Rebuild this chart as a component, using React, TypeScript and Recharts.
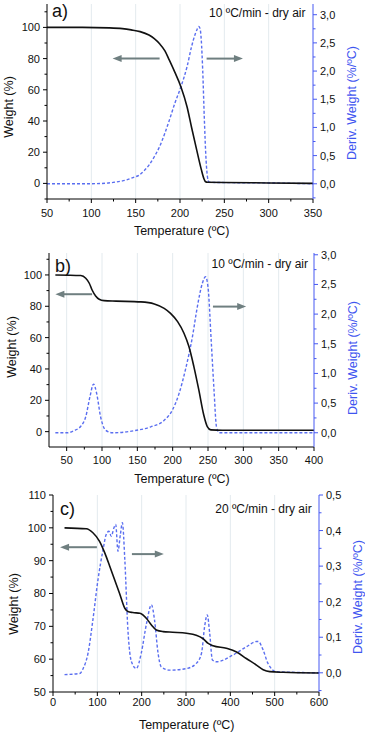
import { LineChart, Line, XAxis, YAxis, ReferenceLine } from 'recharts';

// panel a) 10 ºC/min
const tempWeightA = [50, 90, 120, 135, 145, 155, 165, 171, 177, 183, 188, 194, 201, 208, 213, 219, 224, 227, 228.5, 231, 250, 300, 350];
const weightA = [100, 100, 99.7, 99.2, 98.4, 97.3, 95.1, 92.8, 89.5, 85, 79, 71.5, 62, 49, 36, 21, 9, 3, 1.2, 0.7, 0.6, 0.3, 0];
const tempDerivA = [50, 90, 110, 125, 139, 147, 154, 160, 165, 171, 177, 183, 188, 194, 201, 208, 213, 217, 219, 221, 222.5, 224, 225.6, 227.5, 229.4, 231, 232.5, 236, 260, 300, 350];
const derivA = [0, 0, 0.005, 0.025, 0.066, 0.11, 0.155, 0.24, 0.33, 0.48, 0.66, 0.9, 1.13, 1.42, 1.72, 2.08, 2.43, 2.65, 2.73, 2.79, 2.76, 2.55, 2.02, 1.13, 0.42, 0.12, 0.035, 0.025, 0.02, 0.015, 0];

// panel b) 10 ºC/min
const tempWeightB = [34, 70, 77, 82, 86, 91, 96, 103, 120, 155, 174, 188, 197, 207, 216, 223, 230, 237, 244, 249, 254, 270, 400];
const weightB = [100, 99.6, 97.9, 94.7, 90.4, 86.6, 84.5, 83.6, 83.3, 82.8, 81.5, 78.7, 75.5, 70.2, 62.8, 54.3, 41.5, 26.6, 10.6, 3.2, 1.1, 0.9, 0.9];
const tempDerivB = [34, 51, 60, 70, 77, 83, 88, 92.5, 98, 105, 115, 145, 169, 188, 199.5, 209, 218, 228, 235, 242, 246.5, 250, 254.5, 258.5, 262, 266, 400];
const derivB = [0, 0, 0.034, 0.11, 0.27, 0.61, 0.82, 0.66, 0.27, 0.045, 0, 0.034, 0.1, 0.21, 0.38, 0.66, 1.06, 1.62, 2.13, 2.52, 2.63, 2.46, 1.56, 0.72, 0.1, 0, 0];

// panel c) 20 ºC/min
const tempWeightC = [26, 75, 90, 105, 117, 128, 139, 150, 162, 169, 180, 196, 211, 222, 233, 248, 270, 301, 323, 338, 350, 361, 391, 414, 436, 459, 474, 489, 519, 600];
const weightC = [100, 99.7, 98.5, 95.9, 92.3, 88.3, 84.2, 80.1, 75.5, 74.5, 74.2, 74, 72.4, 70.4, 68.9, 68.4, 68.2, 67.9, 67.3, 66.3, 64.8, 64.1, 63.3, 62.2, 60.2, 58.2, 56.8, 56.2, 56, 55.8];
const tempDerivC = [26, 60, 68, 79, 90, 101.5, 113, 120, 126, 131.5, 137.5, 141.5, 146.5, 152, 156.5, 162, 169, 177, 188, 199, 211, 222, 229, 237, 244, 263, 301, 323, 335, 342, 348, 353.5, 359.5, 368.5, 406, 436, 459, 463, 474, 485, 504, 600];
const derivC = [-0.005, -0.002, 0.012, 0.055, 0.149, 0.262, 0.347, 0.389, 0.398, 0.384, 0.408, 0.417, 0.342, 0.389, 0.422, 0.318, 0.12, 0.031, 0.012, 0.055, 0.139, 0.191, 0.149, 0.055, 0.017, 0.0075, 0.012, 0.026, 0.055, 0.13, 0.163, 0.111, 0.036, 0.031, 0.05, 0.073, 0.088, 0.088, 0.064, 0.026, 0.003, 0];

// ticks
const xMajorA = [50, 100, 150, 200, 250, 300, 350];
const xMinorA = [75, 125, 175, 225, 275, 325];
const xMajorB = [50, 100, 150, 200, 250, 300, 350, 400];
const xMinorB = [75, 125, 175, 225, 275, 325, 375];
const xMajorC = [0, 100, 200, 300, 400, 500, 600];
const xMinorC = [50, 150, 250, 350, 450, 550];
const wMajorAB = [0, 20, 40, 60, 80, 100];
const wMinorA = [-10, 10, 30, 50, 70, 90, 110];
const wMinorB = [10, 30, 50, 70, 90, 110];
const wMajorC = [50, 60, 70, 80, 90, 100, 110];
const wMinorC = [55, 65, 75, 85, 95, 105];
const dMajorAB = [0, 0.5, 1, 1.5, 2, 2.5, 3];
const dMinorA = [-0.25, 0.25, 0.75, 1.25, 1.75, 2.25, 2.75];
const dMinorB = [0.25, 0.75, 1.25, 1.75, 2.25, 2.75];
const dMajorC = [0, 0.1, 0.2, 0.3, 0.4, 0.5];
const dMinorC = [-0.05, 0.05, 0.15, 0.25, 0.35, 0.45];

// arrows: [fromTemp, toTemp, weight]
const arrowsA = [[177, 124, 80], [230, 271, 80]];
const arrowsB = [[86, 34, 87.7], [257, 304, 79.8]];
const arrowsC = [[99, 16, 94.1], [178, 250, 92]];

const BLACK = '#111';
const BLUE_LINE = '#5a6ef0';
const BLUE_AXIS = '#4659f2';
const BLUE_TITLE = '#3f56f0';
const ARROW = '#6f7f80';
const GRID = '#e3eaee';

const pairs = (ts: number[], vs: number[], key: string) => ts.map((t, i) => ({ t, [key]: vs[i] }));
const comma = (v: number) => v.toFixed(1).replace('.', ',');

const bottomTick = (majors: number[], dy: number) => (p: any) => {
  const v = p.payload.value;
  const major = majors.includes(v);
  return (
    <g>
      <line x1={p.x} x2={p.x} y1={p.y} y2={p.y + (major ? 4 : 2.5)} stroke="#000" />
      {major && (
        <text x={p.x} y={p.y + dy} textAnchor="middle" fontSize={11} fill={BLACK}>
          {v}
        </text>
      )}
    </g>
  );
};

const topTick = (p: any) => <line x1={p.x} x2={p.x} y1={p.y} y2={p.y + 3} stroke="#000" />;

const leftTick = (majors: number[]) => (p: any) => {
  const v = p.payload.value;
  const major = majors.includes(v);
  return (
    <g>
      <line x1={p.x} x2={p.x - (major ? 4 : 2.5)} y1={p.y} y2={p.y} stroke="#000" />
      {major && (
        <text x={p.x - 7} y={p.y} dy="0.36em" textAnchor="end" fontSize={11} fill={BLACK}>
          {v}
        </text>
      )}
    </g>
  );
};

const rightTick = (majors: number[]) => (p: any) => {
  const v = p.payload.value;
  const major = majors.includes(v);
  return (
    <g>
      <line x1={p.x} x2={p.x + (major ? 4 : 2.5)} y1={p.y} y2={p.y} stroke={BLUE_AXIS} />
      {major && (
        <text x={p.x + 7} y={p.y} dy="0.36em" textAnchor="start" fontSize={11} fill={BLACK}>
          {comma(v)}
        </text>
      )}
    </g>
  );
};

const Arrow = (p: any) => {
  const { x1, y1, x2, y2 } = p;
  const dir = Math.sign(x2 - x1);
  return (
    <g>
      <line x1={x1} y1={y1} x2={x2 - dir * 7} y2={y2} stroke={ARROW} strokeWidth={2} />
      <polygon points={`${x2},${y2} ${x2 - dir * 9},${y2 - 3.5} ${x2 - dir * 9},${y2 + 3.5}`} fill={ARROW} />
    </g>
  );
};

interface PanelProps {
  top: number;
  height: number;
  marginTop: number;
  leftW: number;
  rightW: number;
  xH: number;
  xDomain: number[];
  xMajor: number[];
  xMinor: number[];
  wDomain: number[];
  wMajor: number[];
  wMinor: number[];
  dDomain: number[];
  dMajor: number[];
  dMinor: number[];
  weight: any[];
  deriv: any[];
  arrows: number[][];
  labelDy: number;
}

function Panel(p: PanelProps) {
  const xTicks = [...p.xMajor, ...p.xMinor].sort((a, b) => a - b);
  const wTicks = [...p.wMajor, ...p.wMinor].sort((a, b) => a - b);
  const dTicks = [...p.dMajor, ...p.dMinor].sort((a, b) => a - b);
  const inner = p.xMajor.filter(v => v > p.xDomain[0] && v < p.xDomain[1]);
  return (
    <div style={{ position: 'absolute', left: 0, top: p.top }}>
      <LineChart width={365} height={p.height} margin={{ top: p.marginTop, right: 0, bottom: 0, left: 0 }}>
        <XAxis
          xAxisId="x"
          dataKey="t"
          type="number"
          domain={p.xDomain}
          ticks={xTicks}
          interval={0}
          height={p.xH}
          tickSize={0}
          tickMargin={0}
          tickLine={false}
          axisLine={{ stroke: '#000' }}
          tick={bottomTick(p.xMajor, p.labelDy)}
        />
        <XAxis
          xAxisId="top"
          orientation="top"
          dataKey="t"
          type="number"
          domain={p.xDomain}
          ticks={xTicks}
          interval={0}
          height={0}
          tickSize={0}
          tickMargin={0}
          tickLine={false}
          axisLine={{ stroke: '#000' }}
          tick={topTick}
        />
        <YAxis
          yAxisId="w"
          type="number"
          domain={p.wDomain}
          ticks={wTicks}
          interval={0}
          width={p.leftW}
          tickSize={0}
          tickMargin={0}
          tickLine={false}
          axisLine={{ stroke: '#000' }}
          tick={leftTick(p.wMajor)}
        />
        <YAxis
          yAxisId="d"
          orientation="right"
          type="number"
          domain={p.dDomain}
          ticks={dTicks}
          interval={0}
          width={p.rightW}
          tickSize={0}
          tickMargin={0}
          tickLine={false}
          axisLine={{ stroke: BLUE_AXIS }}
          tick={rightTick(p.dMajor)}
        />
        {inner.map(v => (
          <ReferenceLine key={'g' + v} xAxisId="x" yAxisId="w" x={v} stroke={GRID} strokeWidth={1} />
        ))}
        <Line
          xAxisId="x"
          yAxisId="d"
          data={p.deriv}
          dataKey="d"
          type="monotone"
          stroke={BLUE_LINE}
          strokeWidth={1.4}
          strokeDasharray="3 2"
          dot={false}
          isAnimationActive={false}
        />
        <Line
          xAxisId="x"
          yAxisId="w"
          data={p.weight}
          dataKey="w"
          type="monotone"
          stroke={BLACK}
          strokeWidth={1.6}
          dot={false}
          isAnimationActive={false}
        />
        {p.arrows.map((a, i) => (
          <ReferenceLine
            key={'a' + i}
            xAxisId="x"
            yAxisId="w"
            segment={[{ x: a[0], y: a[2] }, { x: a[1], y: a[2] }]}
            shape={Arrow}
          />
        ))}
      </LineChart>
    </div>
  );
}

const yTitle = (x: number, y: number, text: string, color: string) => (
  <text transform={`translate(${x},${y}) rotate(-90)`} textAnchor="middle" fontSize={12.5} fill={color}>
    {text}
  </text>
);

export default function App() {
  return (
    <div
      style={{
        position: 'absolute',
        left: 0,
        top: 0,
        width: 365,
        height: 733,
        background: '#fff',
        fontFamily: "Arial, 'Liberation Sans', sans-serif",
      }}
    >
      <Panel
        top={0}
        height={240}
        marginTop={4}
        leftW={47}
        rightW={52}
        xH={41}
        xDomain={[50, 350]}
        xMajor={xMajorA}
        xMinor={xMinorA}
        wDomain={[-10, 115]}
        wMajor={wMajorAB}
        wMinor={wMinorA}
        dDomain={[-0.27, 3.19]}
        dMajor={dMajorAB}
        dMinor={dMinorA}
        weight={pairs(tempWeightA, weightA, 'w')}
        deriv={pairs(tempDerivA, derivA, 'd')}
        arrows={arrowsA}
        labelDy={17.5}
      />
      <Panel
        top={240}
        height={240}
        marginTop={13}
        leftW={49}
        rightW={51}
        xH={33}
        xDomain={[25, 400]}
        xMajor={xMajorB}
        xMinor={xMinorB}
        wDomain={[-9.8, 114]}
        wMajor={wMajorAB}
        wMinor={wMinorB}
        dDomain={[-0.24, 3.03]}
        dMajor={dMajorAB}
        dMinor={dMinorB}
        weight={pairs(tempWeightB, weightB, 'w')}
        deriv={pairs(tempDerivB, derivB, 'd')}
        arrows={arrowsB}
        labelDy={17}
      />
      <Panel
        top={480}
        height={253}
        marginTop={15}
        leftW={53}
        rightW={46}
        xH={41}
        xDomain={[0, 600]}
        xMajor={xMajorC}
        xMinor={xMinorC}
        wDomain={[50, 110]}
        wMajor={wMajorC}
        wMinor={wMinorC}
        dDomain={[-0.054, 0.5]}
        dMajor={dMajorC}
        dMinor={dMinorC}
        weight={pairs(tempWeightC, weightC, 'w')}
        deriv={pairs(tempDerivC, derivC, 'd')}
        arrows={arrowsC}
        labelDy={14}
      />
      <svg width={365} height={733} style={{ position: 'absolute', left: 0, top: 0, pointerEvents: 'none' }}>
        {/* panel a */}
        <text x={52} y={16.5} fontSize={18} fill={BLACK}>a)</text>
        <text x={305.5} y={17.3} textAnchor="end" fontSize={12} fill={BLACK}>10 ºC/min - dry air</text>
        <text x={181.7} y={235} textAnchor="middle" fontSize={12.5} fill={BLACK}>Temperature (ºC)</text>
        {yTitle(12.5, 107, 'Weight (%)', BLACK)}
        {yTitle(356, 103, 'Deriv. Weight (%/ºC)', BLUE_TITLE)}
        {/* panel b */}
        <text x={55} y={271.5} fontSize={18} fill={BLACK}>b)</text>
        <text x={308} y={268.3} textAnchor="end" fontSize={12} fill={BLACK}>10 ºC/min - dry air</text>
        <text x={182} y={482.5} textAnchor="middle" fontSize={12.5} fill={BLACK}>Temperature (ºC)</text>
        {yTitle(15.5, 347, 'Weight (%)', BLACK)}
        {yTitle(356.5, 358, 'Deriv. Weight (%/ºC)', BLUE_TITLE)}
        {/* panel c */}
        <text x={60} y={515} fontSize={18} fill={BLACK}>c)</text>
        <text x={311.7} y={513.3} textAnchor="end" fontSize={12} fill={BLACK}>20 ºC/min - dry air</text>
        <text x={186.7} y={729} textAnchor="middle" fontSize={12.5} fill={BLACK}>Temperature (ºC)</text>
        {yTitle(17.5, 604, 'Weight (%)', BLACK)}
        {yTitle(361.5, 597, 'Deriv. Weight (%/ºC)', BLUE_TITLE)}
      </svg>
    </div>
  );
}
